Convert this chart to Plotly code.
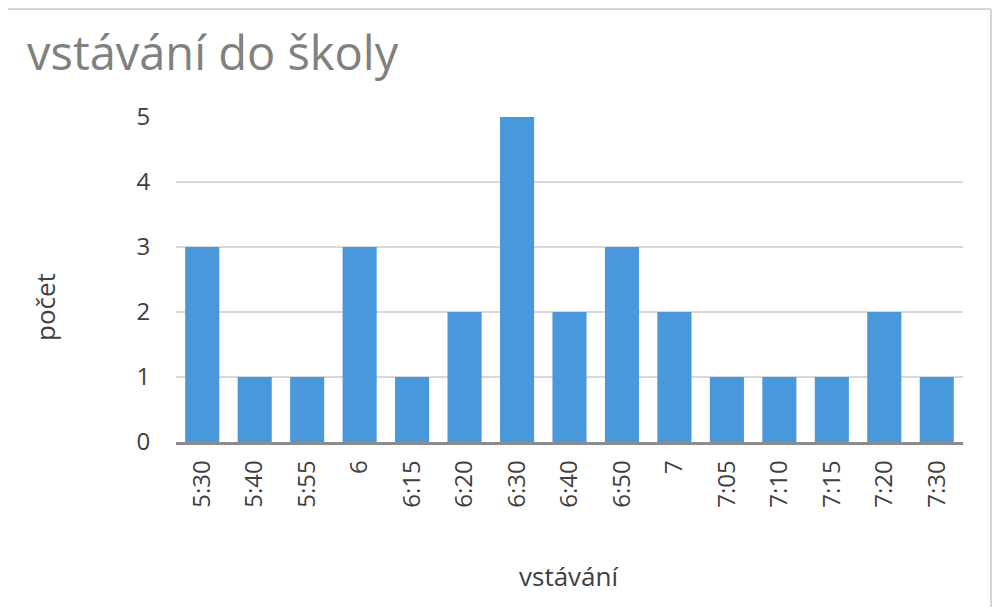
import plotly.graph_objects as go

categories = ["5:30", "5:40", "5:55", "6", "6:15", "6:20", "6:30", "6:40",
              "6:50", "7", "7:05", "7:10", "7:15", "7:20", "7:30"]
counts = [3, 1, 1, 3, 1, 2, 5, 2, 3, 2, 1, 1, 1, 2, 1]
y_ticks = [0, 1, 2, 3, 4, 5]

title_text = "vstávání do školy"
x_title = "vstávání"
y_title = "počet"

fig = go.Figure(go.Bar(x=categories, y=counts, marker_color="#4a98dc",
                       marker_line_width=0))

font = "Open Sans, DejaVu Sans, sans-serif"
W, H = 984, 599
L, R, T, B = 168, 29, 109, 165
pw, ph = W - L - R, H - T - B
fig.update_layout(
    width=W, height=H,
    paper_bgcolor="white", plot_bgcolor="white",
    margin=dict(l=L, r=R, t=T, b=B, autoexpand=False),
    bargap=0.35,
    showlegend=False,
    title=dict(text=title_text, x=19 / W, xanchor="left", y=1 - 46 / H, yanchor="middle",
               font=dict(family=font, size=47, color="#808080")),
    font=dict(family=font, color="#404040"),
)
fig.update_xaxes(
    type="category", tickangle=-90, tickfont=dict(size=24, color="#404040"),
    showline=True, linecolor="#8c8c8c", linewidth=2.5, showgrid=False,
    ticks="outside", ticklen=6, tickcolor="rgba(0,0,0,0)",
)
fig.update_yaxes(
    range=[0, 5], tickvals=y_ticks, tickfont=dict(size=24, color="#404040"),
    showgrid=True, gridcolor="#d9d9d9", gridwidth=1.5, zeroline=False,
    showline=False, ticks="outside", ticklen=20, tickcolor="rgba(0,0,0,0)",
)
fig.add_annotation(text=y_title, xref="paper", yref="paper", x=(37 - L) / pw,
                   y=(434 - 299) / ph, showarrow=False, textangle=-90,
                   xanchor="center", yanchor="middle",
                   font=dict(size=26, color="#404040"))
fig.add_annotation(text=x_title, xref="paper", yref="paper", x=(560 - L) / pw,
                   y=(434 - 568) / ph, showarrow=False, xanchor="center", yanchor="middle",
                   font=dict(size=26, color="#404040"))
# light chart border on top and right
xr = (W - 1 - L) / pw
ytop = (434 - 1) / ph
fig.add_shape(type="line", xref="paper", yref="paper", x0=-0.25, x1=xr,
              y0=ytop, y1=ytop, line=dict(color="#d6d6d6", width=2))
fig.add_shape(type="line", xref="paper", yref="paper", x0=xr, x1=xr,
              y0=ytop, y1=(434 - H) / ph, line=dict(color="#d6d6d6", width=2))

fig.write_html("out.html")
